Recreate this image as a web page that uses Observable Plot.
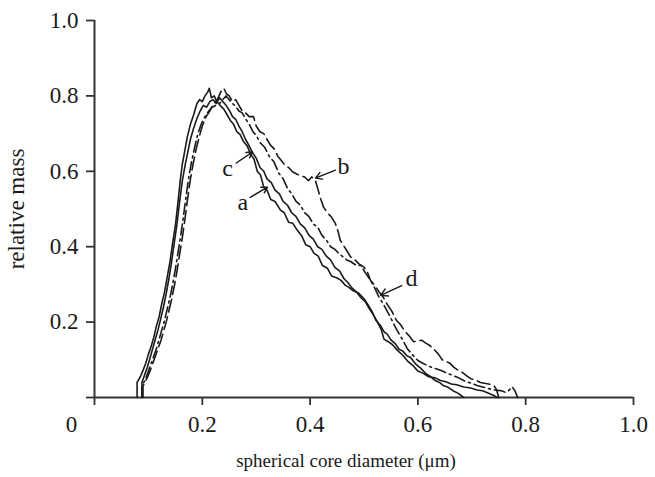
<!DOCTYPE html>
<html>
<head>
<meta charset="utf-8">
<script src="https://cdn.jsdelivr.net/npm/d3@7"></script>
<script src="https://cdn.jsdelivr.net/npm/@observablehq/plot@0.6"></script>
<style>
  html, body { margin: 0; padding: 0; background: #fff; }
  #chart { width: 655px; height: 477px; }
</style>
</head>
<body>
<div id="chart"></div>
<script>
// ---- data ----
const xTicks = [0, 0.2, 0.4, 0.6, 0.8, 1.0];
const yTicks = [0, 0.2, 0.4, 0.6, 0.8, 1.0];
const xTitle = "spherical core diameter (μm)";
const yTitle = "relative mass";
const originLabel = ["0"];

// curve a (solid)
const curveA = [[0.079,0],[0.079,0.04],[0.085,0.055],[0.09,0.072],[0.095,0.09],[0.10,0.115],[0.105,0.135],[0.11,0.16],[0.115,0.19],[0.12,0.215],[0.125,0.25],[0.13,0.28],[0.135,0.32],[0.14,0.36],[0.145,0.41],[0.15,0.455],[0.155,0.52],[0.159,0.575],[0.163,0.62],[0.167,0.65],[0.172,0.69],[0.178,0.725],[0.184,0.75],[0.19,0.78],[0.195,0.79],[0.20,0.785],[0.205,0.8],[0.21,0.81],[0.213,0.82],[0.217,0.795],[0.222,0.8],[0.227,0.785],[0.233,0.775],[0.24,0.765],[0.246,0.75],[0.252,0.735],[0.258,0.725],[0.264,0.705],[0.27,0.698],[0.276,0.68],[0.283,0.668],[0.29,0.645],[0.296,0.632],[0.302,0.6],[0.308,0.59],[0.314,0.558],[0.32,0.55],[0.327,0.525],[0.335,0.52],[0.345,0.497],[0.352,0.49],[0.36,0.465],[0.368,0.462],[0.376,0.444],[0.384,0.43],[0.392,0.405],[0.40,0.4],[0.407,0.383],[0.415,0.375],[0.423,0.35],[0.432,0.343],[0.44,0.322],[0.45,0.317],[0.458,0.31],[0.465,0.298],[0.472,0.292],[0.48,0.283],[0.49,0.277],[0.5,0.262],[0.508,0.245],[0.515,0.228],[0.522,0.205],[0.531,0.19],[0.537,0.175],[0.543,0.168],[0.55,0.153],[0.558,0.143],[0.565,0.128],[0.572,0.123],[0.58,0.11],[0.586,0.107],[0.595,0.09],[0.605,0.078],[0.615,0.063],[0.623,0.056],[0.632,0.045],[0.64,0.04],[0.648,0.031],[0.655,0.028],[0.665,0.018],[0.675,0.011],[0.685,0]];

// curve b (long dash)
const curveB = [[0.09,0],[0.09,0.03],[0.097,0.05],[0.103,0.07],[0.108,0.09],[0.113,0.11],[0.118,0.13],[0.123,0.15],[0.128,0.175],[0.133,0.2],[0.138,0.23],[0.143,0.26],[0.148,0.295],[0.153,0.335],[0.158,0.38],[0.163,0.425],[0.168,0.475],[0.173,0.53],[0.178,0.58],[0.183,0.62],[0.188,0.655],[0.194,0.69],[0.2,0.72],[0.207,0.745],[0.214,0.76],[0.221,0.78],[0.228,0.79],[0.234,0.81],[0.24,0.82],[0.245,0.805],[0.25,0.8],[0.256,0.785],[0.262,0.79],[0.268,0.775],[0.274,0.76],[0.28,0.755],[0.287,0.745],[0.295,0.745],[0.3,0.72],[0.307,0.705],[0.314,0.7],[0.32,0.685],[0.326,0.67],[0.333,0.66],[0.34,0.64],[0.347,0.628],[0.354,0.615],[0.36,0.61],[0.368,0.598],[0.376,0.592],[0.383,0.588],[0.39,0.585],[0.397,0.575],[0.403,0.585],[0.41,0.575],[0.415,0.55],[0.42,0.525],[0.425,0.505],[0.432,0.49],[0.44,0.478],[0.447,0.461],[0.452,0.44],[0.456,0.417],[0.462,0.403],[0.468,0.39],[0.475,0.373],[0.482,0.367],[0.49,0.355],[0.5,0.346],[0.507,0.33],[0.512,0.311],[0.52,0.297],[0.528,0.28],[0.536,0.265],[0.544,0.245],[0.552,0.228],[0.56,0.205],[0.568,0.193],[0.576,0.175],[0.584,0.163],[0.592,0.148],[0.6,0.15],[0.607,0.152],[0.614,0.145],[0.622,0.138],[0.63,0.128],[0.638,0.115],[0.645,0.1],[0.652,0.096],[0.66,0.09],[0.667,0.08],[0.675,0.072],[0.683,0.066],[0.69,0.058],[0.698,0.05],[0.706,0.047],[0.716,0.04],[0.726,0.037],[0.735,0.035],[0.741,0.032],[0.746,0.02],[0.75,0]];

// curve c (solid)
const curveC = [[0.088,0],[0.088,0.04],[0.093,0.06],[0.098,0.08],[0.103,0.105],[0.108,0.13],[0.113,0.155],[0.118,0.18],[0.123,0.21],[0.128,0.24],[0.133,0.275],[0.138,0.315],[0.143,0.36],[0.148,0.41],[0.153,0.46],[0.158,0.52],[0.163,0.575],[0.168,0.615],[0.173,0.65],[0.178,0.685],[0.184,0.715],[0.19,0.74],[0.196,0.76],[0.202,0.775],[0.208,0.77],[0.214,0.785],[0.22,0.79],[0.226,0.78],[0.232,0.795],[0.238,0.785],[0.244,0.775],[0.25,0.762],[0.256,0.745],[0.262,0.738],[0.268,0.72],[0.274,0.705],[0.28,0.685],[0.286,0.67],[0.293,0.65],[0.3,0.635],[0.307,0.61],[0.314,0.6],[0.32,0.58],[0.328,0.57],[0.335,0.55],[0.343,0.54],[0.35,0.52],[0.358,0.51],[0.366,0.49],[0.374,0.48],[0.382,0.46],[0.39,0.45],[0.398,0.43],[0.406,0.42],[0.414,0.4],[0.422,0.393],[0.43,0.375],[0.438,0.365],[0.446,0.345],[0.455,0.335],[0.463,0.315],[0.47,0.305],[0.478,0.29],[0.486,0.28],[0.494,0.265],[0.502,0.255],[0.51,0.235],[0.518,0.218],[0.525,0.2],[0.532,0.18],[0.537,0.155],[0.545,0.148],[0.553,0.14],[0.562,0.125],[0.572,0.112],[0.582,0.095],[0.592,0.083],[0.6,0.07],[0.61,0.064],[0.62,0.055],[0.632,0.052],[0.642,0.045],[0.652,0.042],[0.662,0.036],[0.672,0.034],[0.685,0.028],[0.698,0.025],[0.71,0.02],[0.72,0.018],[0.73,0.012],[0.74,0.006],[0.747,0]];

// curve d (dash-dot)
const curveD = [[0.088,0],[0.088,0.03],[0.095,0.05],[0.10,0.07],[0.105,0.09],[0.11,0.11],[0.115,0.13],[0.12,0.155],[0.125,0.18],[0.13,0.205],[0.135,0.235],[0.14,0.265],[0.145,0.3],[0.15,0.34],[0.155,0.385],[0.16,0.43],[0.165,0.48],[0.17,0.535],[0.175,0.585],[0.18,0.625],[0.186,0.665],[0.192,0.7],[0.198,0.725],[0.205,0.745],[0.212,0.76],[0.218,0.77],[0.225,0.775],[0.232,0.78],[0.238,0.79],[0.244,0.8],[0.25,0.79],[0.256,0.78],[0.262,0.772],[0.268,0.76],[0.274,0.755],[0.28,0.74],[0.287,0.725],[0.294,0.705],[0.3,0.695],[0.308,0.675],[0.316,0.663],[0.324,0.64],[0.333,0.625],[0.342,0.595],[0.35,0.58],[0.358,0.555],[0.366,0.54],[0.374,0.52],[0.382,0.51],[0.39,0.49],[0.398,0.48],[0.406,0.46],[0.414,0.452],[0.422,0.43],[0.43,0.418],[0.438,0.4],[0.446,0.393],[0.455,0.38],[0.462,0.372],[0.469,0.364],[0.476,0.36],[0.484,0.352],[0.494,0.35],[0.503,0.33],[0.512,0.311],[0.52,0.29],[0.528,0.266],[0.535,0.25],[0.542,0.232],[0.549,0.213],[0.557,0.19],[0.565,0.169],[0.573,0.15],[0.58,0.13],[0.59,0.113],[0.6,0.098],[0.61,0.09],[0.62,0.083],[0.632,0.077],[0.642,0.072],[0.652,0.066],[0.662,0.06],[0.673,0.054],[0.685,0.045],[0.698,0.038],[0.71,0.032],[0.72,0.028],[0.73,0.024],[0.74,0.02],[0.748,0.019],[0.755,0.018],[0.762,0.014],[0.768,0.018],[0.775,0.028],[0.78,0.018],[0.785,0]];

// curve labels and their arrows (label position, arrow tail, arrow tip)
const labelNames = ["a", "b", "c", "d"];
const labelX = [0.275, 0.462, 0.247, 0.588];
const labelY = [0.518, 0.614, 0.608, 0.316];
const arrowX1 = [0.289, 0.447, 0.263, 0.570];
const arrowY1 = [0.531, 0.603, 0.622, 0.297];
const arrowX2 = [0.321, 0.410, 0.293, 0.531];
const arrowY2 = [0.558, 0.582, 0.651, 0.271];

// ---- build ----
const curves = [
  {name: "a", pts: curveA, dash: null},
  {name: "b", pts: curveB, dash: "13,5"},
  {name: "c", pts: curveC, dash: null},
  {name: "d", pts: curveD, dash: "11,4,2,4"}
];
const labels = labelNames.map((n, i) => ({n, x: labelX[i], y: labelY[i], x1: arrowX1[i], y1: arrowY1[i], x2: arrowX2[i], y2: arrowY2[i]}));

const ink = "#1a1a1a";
const axisInk = "#333";
const fontFamily = "'Liberation Serif', 'Times New Roman', serif";

const lineMarks = curves.map(c => Plot.line(c.pts, {
  x: d => d[0], y: d => d[1],
  stroke: ink, strokeWidth: 1.6,
  strokeDasharray: c.dash, strokeLinejoin: "round"
}));

const chart = Plot.plot({
  width: 655,
  height: 477,
  marginLeft: 94,
  marginRight: 22,
  marginTop: 20,
  marginBottom: 80,
  style: {fontFamily, fontSize: "23px", color: axisInk, background: "#fff", overflow: "visible"},
  x: {domain: [0, 1]},
  y: {domain: [0, 1]},
  marks: [
    Plot.axisY({ticks: yTicks, tickFormat: d => d === 0 ? "" : d.toFixed(1), tickSize: 8, tickPadding: 8,
      strokeWidth: 1.8, stroke: axisInk, fill: ink, fontSize: 23,
      label: yTitle, labelAnchor: "center", labelArrow: "none", labelOffset: 87}),
    Plot.axisX({ticks: xTicks, tickFormat: d => d === 0 ? "" : d.toFixed(1), tickSize: 8, tickPadding: 10,
      strokeWidth: 1.8, stroke: axisInk, fill: ink, fontSize: 23, label: null}),
    Plot.ruleX([0], {stroke: axisInk, strokeWidth: 2}),
    Plot.ruleY([0], {stroke: axisInk, strokeWidth: 2}),
    Plot.text(originLabel, {x: 0, y: 0, text: d => d, dx: -23, dy: 27, fill: ink, fontSize: 23}),
    Plot.text([xTitle], {frameAnchor: "bottom", text: d => d, dx: -18, dy: 69, fill: ink, fontSize: 19}),
    ...lineMarks,
    Plot.arrow(labels, {x1: "x1", y1: "y1", x2: "x2", y2: "y2", stroke: ink, strokeWidth: 1.4, headLength: 9}),
    Plot.text(labels, {x: "x", y: "y", text: "n", fill: ink, fontSize: 24})
  ]
});
document.getElementById("chart").appendChild(chart);
</script>
</body>
</html>
